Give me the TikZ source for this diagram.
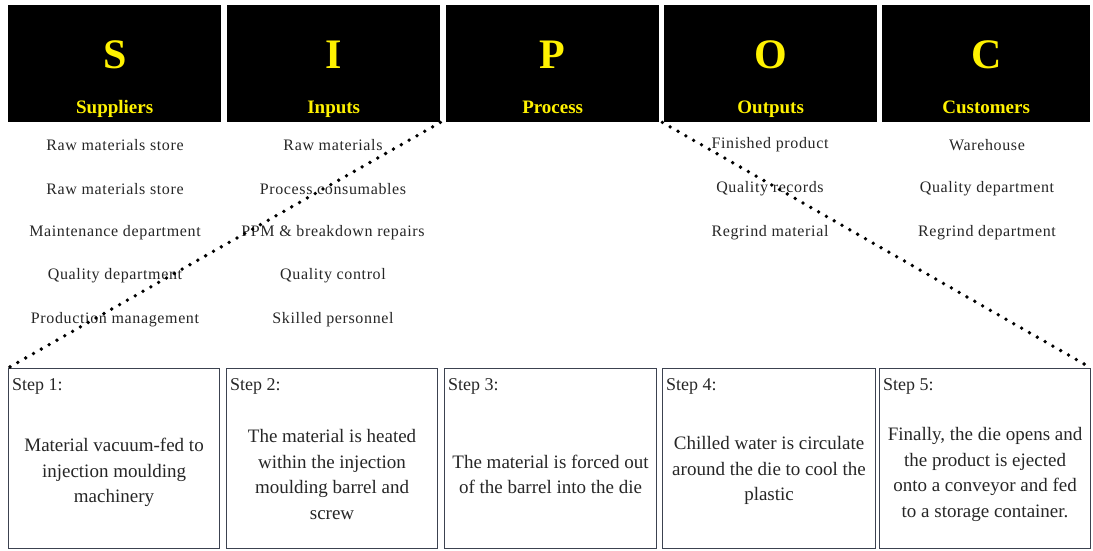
\documentclass[tikz,border=0pt]{standalone}
\usepackage{fontspec}
\setmainfont{Liberation Serif}
\newfontfamily\listfont[LetterSpace=4]{Liberation Serif}
\definecolor{headyellow}{HTML}{FFF200}
\definecolor{boxline}{HTML}{3C4250}
\definecolor{ink}{HTML}{262626}
\begin{document}
\begin{tikzpicture}[x=1pt,y=-1pt,
  headbox/.style={fill=black, draw=none, minimum width=213pt, minimum height=117pt,
    anchor=north west, inner sep=0pt},
  letter/.style={text=headyellow, font=\fontsize{42}{42}\selectfont\bfseries, inner sep=0pt, anchor=base},
  hname/.style={text=headyellow, font=\fontsize{19}{19}\selectfont\bfseries, inner sep=0pt, anchor=base},
  item/.style={text=ink, font=\listfont\fontsize{16}{17}\selectfont, inner sep=0pt},
  stepbox/.style={draw=boxline, line width=1.1pt, minimum width=211pt, minimum height=180pt,
    anchor=north west, inner sep=0pt},
  steplabel/.style={text=ink, font=\fontsize{18}{20}\selectfont, anchor=west, inner sep=0pt},
  stepbody/.style={text=ink, font=\fontsize{19}{25.5}\selectfont, align=center, inner sep=0pt},
  dotline/.style={line width=3.8pt, line cap=round, dash pattern=on 0pt off 9pt, black}
]
\useasboundingbox (0,0) rectangle (1093,551);

% SIPOC header boxes
\node[headbox] (hS) at (8,5) {};
\node[headbox] (hI) at (227,5) {};
\node[headbox] (hP) at (446,5) {};
\node[headbox] (hO) at (664,5) {};
\node[headbox, minimum width=208pt] (hC) at (882,5) {};

\node[letter] (lS) at ([yshift=-5pt]hS.center) {S};
\node[letter] (lI) at ([yshift=-5pt]hI.center) {I};
\node[letter] (lP) at ([yshift=-5pt]hP.center) {P};
\node[letter] (lO) at ([yshift=-5pt]hO.center) {O};
\node[letter] (lC) at ([yshift=-5pt]hC.center) {C};

\node[hname] (nS) at ([yshift=9pt]hS.south) {Suppliers};
\node[hname] (nI) at ([yshift=9pt]hI.south) {Inputs};
\node[hname] (nP) at ([yshift=9pt]hP.south) {Process};
\node[hname] (nO) at ([yshift=9pt]hO.south) {Outputs};
\node[hname] (nC) at ([yshift=9pt]hC.south) {Customers};

% Suppliers
\node[item] (s1) at (115,145) {Raw materials store};
\node[item] (s2) at (115,189) {Raw materials store};
\node[item] (s3) at (115,233) {Maintenance department};
\node[item] (s4) at (115,276) {Quality department};
\node[item] (s5) at (115,320) {Production management};
% Inputs
\node[item] (i1) at (333,145) {Raw materials};
\node[item] (i2) at (333,189) {Process consumables};
\node[item] (i3) at (333,233) {PPM \& breakdown repairs};
\node[item] (i4) at (333,276) {Quality control};
\node[item] (i5) at (333,320) {Skilled personnel};
% Outputs
\node[item] (o1) at (770,145) {Finished product};
\node[item] (o2) at (770,189) {Quality records};
\node[item] (o3) at (770,233) {Regrind material};
% Customers
\node[item] (c1) at (987,145) {Warehouse};
\node[item] (c2) at (987,189) {Quality department};
\node[item] (c3) at (987,233) {Regrind department};

% Process steps
\node[stepbox] (st1) at (8,368) {};
\node[stepbox] (st2) at (226,368) {};
\node[stepbox, minimum width=212pt] (st3) at (444,368) {};
\node[stepbox, minimum width=213pt] (st4) at (662,368) {};
\node[stepbox] (st5) at (879,368) {};

\node[steplabel] (t1) at ([xshift=4pt,yshift=-18pt]st1.north west) {Step 1:};
\node[steplabel] (t2) at ([xshift=4pt,yshift=-18pt]st2.north west) {Step 2:};
\node[steplabel] (t3) at ([xshift=4pt,yshift=-18pt]st3.north west) {Step 3:};
\node[steplabel] (t4) at ([xshift=4pt,yshift=-18pt]st4.north west) {Step 4:};
\node[steplabel] (t5) at ([xshift=4pt,yshift=-18pt]st5.north west) {Step 5:};

\node[stepbody] (b1) at ([yshift=-14pt]st1.center) {Material vacuum-fed to\\injection moulding\\machinery};
\node[stepbody] (b2) at ([yshift=-16pt]st2.center) {The material is heated\\within the injection\\moulding barrel and\\screw};
\node[stepbody] (b3) at ([yshift=-16pt]st3.center) {The material is forced out\\of the barrel into the die};
\node[stepbody] (b4) at ([yshift=-12pt]st4.center) {Chilled water is circulate\\around the die to cool the\\plastic};
\node[stepbody] (b5) at ([yshift=-16pt]st5.center) {Finally, the die opens and\\the product is ejected\\onto a conveyor and fed\\to a storage container.};

% zoom lines from the Process header to the step row
\draw[dotline] (hI.south east) -- (st1.north west);
\draw[dotline] ([xshift=3pt]hP.south east) -- (st5.north east);
\end{tikzpicture}
\end{document}
